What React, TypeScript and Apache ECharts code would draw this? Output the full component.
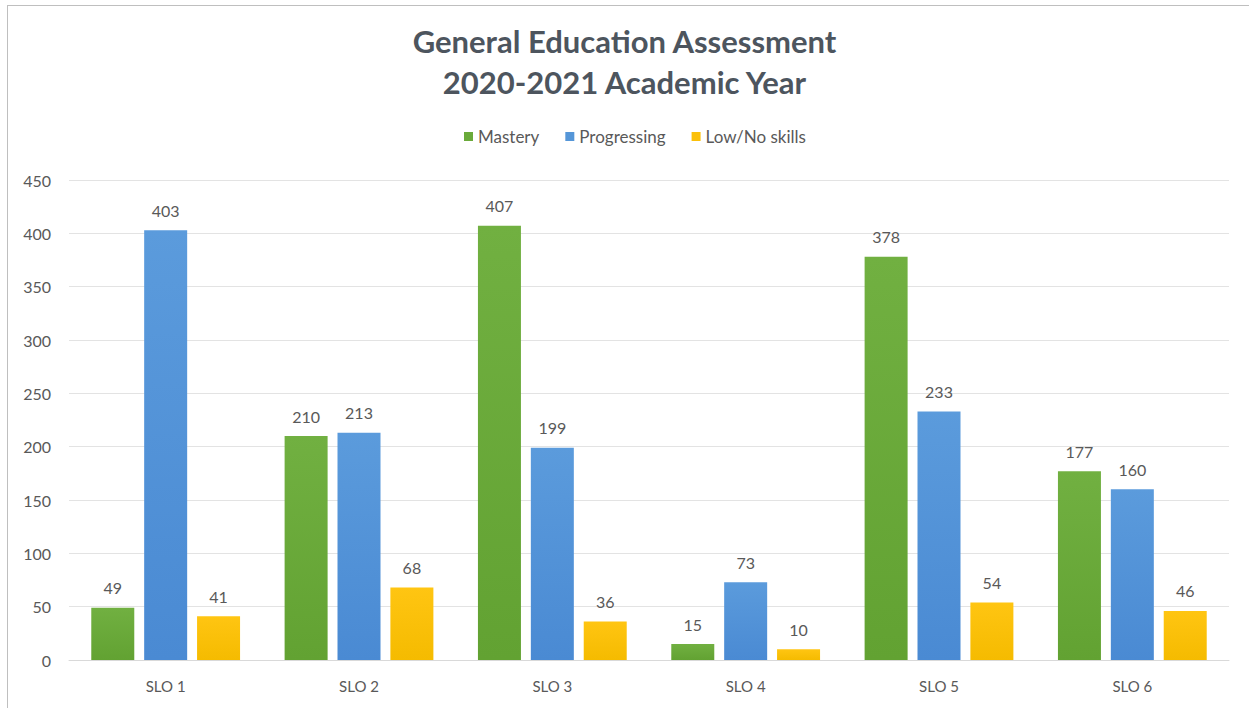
import React, { useEffect, useRef } from "react";
import * as echarts from "echarts";

const categories = ["SLO 1", "SLO 2", "SLO 3", "SLO 4", "SLO 5", "SLO 6"];
const mastery = [49, 210, 407, 15, 378, 177];
const progressing = [403, 213, 199, 73, 233, 160];
const lowNoSkills = [41, 68, 36, 10, 54, 46];
const seriesNames = ["Mastery", "Progressing", "Low/No skills"];
const titleLines = ["General Education Assessment", "2020-2021 Academic Year"];

const FONT = "Lato, 'Open Sans', sans-serif";
const TXT = "#595959";

function grad(top: string, bottom: string) {
  return new echarts.graphic.LinearGradient(0, 0, 0, 1, [
    { offset: 0, color: top },
    { offset: 1, color: bottom },
  ]);
}

export default function App() {
  const ref = useRef<HTMLDivElement>(null);
  useEffect(() => {
    if (!ref.current) return;
    const chart = echarts.init(ref.current, null, { renderer: "svg" });
    const label = {
      show: true,
      position: "top" as const,
      distance: 12,
      color: TXT,
      fontSize: 16,
      fontFamily: FONT,
    };
    const datasets = [mastery, progressing, lowNoSkills];
    const colors = [
      grad("#71b041", "#62a232"),
      grad("#5b9bdc", "#4a8ad3"),
      grad("#ffc512", "#f5bb00"),
    ];
    const legendColors = ["#6aaa3a", "#5596d8", "#fbc00a"];
    chart.setOption({
      animation: false,
      backgroundColor: "#ffffff",
      title: {
        text: titleLines.join("\n"),
        left: "center",
        top: 15,
        textStyle: {
          fontFamily: FONT,
          fontWeight: "bold",
          fontSize: 31,
          lineHeight: 41,
          color: "#4d555e",
        },
      },
      legend: {
        top: 123,
        left: 459,
        itemWidth: 9,
        itemHeight: 9,
        itemGap: 26,
        icon: "rect",
        textStyle: { color: TXT, fontSize: 17, fontFamily: FONT },
        data: seriesNames.map((n, i) => ({ name: n, itemStyle: { color: legendColors[i] } })),
      },
      grid: { left: 69, right: 20, top: 180, bottom: 48, containLabel: false },
      xAxis: {
        type: "category",
        data: categories,
        axisLine: { show: true, lineStyle: { color: "#d9d9d9" } },
        axisTick: { show: false },
        axisLabel: { color: TXT, fontSize: 15, fontFamily: FONT, margin: 18 },
      },
      yAxis: {
        type: "value",
        min: 0,
        max: 450,
        interval: 50,
        axisLine: { show: false },
        axisTick: { show: false },
        splitLine: { lineStyle: { color: "#e3e3e3" } },
        axisLabel: { color: TXT, fontSize: 16, fontFamily: FONT, margin: 18 },
      },
      series: datasets.map((d, i) => ({
        name: seriesNames[i],
        type: "bar",
        data: d,
        barWidth: 43,
        barGap: "23%",
        itemStyle: { color: colors[i] },
        label,
      })),
      graphic: [
        { type: "line", shape: { x1: 7, y1: 5.5, x2: 1249, y2: 5.5 }, style: { stroke: "#bfbfbf", lineWidth: 1 } },
        { type: "line", shape: { x1: 7.5, y1: 5, x2: 7.5, y2: 708 }, style: { stroke: "#bfbfbf", lineWidth: 1 } },
      ],
    });
    return () => chart.dispose();
  }, []);
  return (
    <div
      ref={ref}
      style={{ position: "absolute", left: 0, top: 0, width: 1249, height: 708 }}
    />
  );
}
